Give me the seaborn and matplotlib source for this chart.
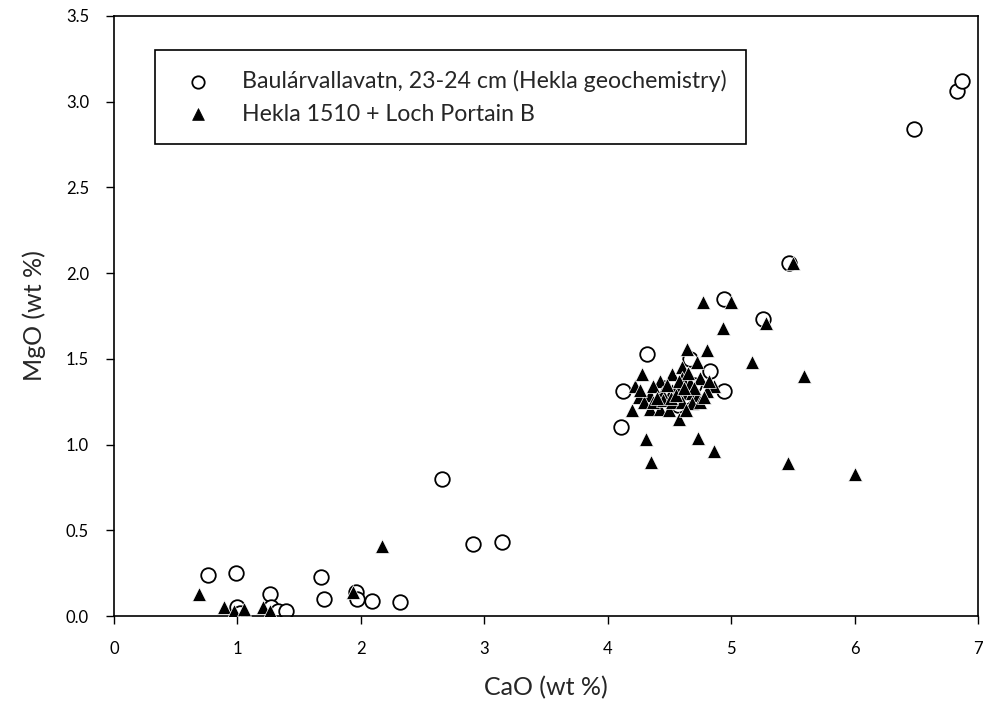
import matplotlib
matplotlib.use("Agg")
import matplotlib.pyplot as plt
import seaborn as sns
import pandas as pd

# Baulárvallavatn, 23-24 cm tephra shards (CaO, MgO in wt %)
baul_cao = [0.76, 0.99, 1.00, 1.02, 1.26, 1.27, 1.33, 1.39, 1.68, 1.70, 1.96, 1.97,
            2.09, 2.32, 2.66, 2.91, 3.14,
            4.11, 4.12, 4.32, 4.57, 4.67, 4.83, 4.94, 4.94, 5.26, 5.47, 4.45, 4.62, 4.70,
            6.48, 6.83, 6.87]
baul_mgo = [0.24, 0.25, 0.05, 0.02, 0.13, 0.05, 0.03, 0.03, 0.23, 0.10, 0.14, 0.10,
            0.09, 0.08, 0.80, 0.42, 0.43,
            1.10, 1.31, 1.53, 1.23, 1.50, 1.43, 1.31, 1.85, 1.73, 2.06, 1.33, 1.28, 1.35,
            2.84, 3.06, 3.12]

# Hekla 1510 + Loch Portain B reference glass
hekla_cao = [0.69, 0.89, 0.97, 1.05, 1.21, 1.26, 1.94, 2.17,
             4.77, 5.00, 4.93, 5.28, 5.50, 4.64, 4.80, 5.17, 4.72, 5.59, 4.31, 4.35,
             4.73, 4.86, 5.46, 6.00, 4.58, 4.20,
             4.22, 4.28, 4.25, 4.86, 4.75, 4.34, 4.42, 4.50, 4.42, 4.52, 4.60, 4.60,
             4.67, 4.52, 4.44, 4.34, 4.29, 4.37, 4.45, 4.52, 4.61, 4.68, 4.73, 4.80,
             4.60, 4.68, 4.75, 4.26, 4.37, 4.56, 4.63, 4.51, 4.65, 4.48, 4.55, 4.70,
             4.40, 4.58, 4.78, 4.82, 4.62]
hekla_mgo = [0.13, 0.05, 0.03, 0.04, 0.05, 0.03, 0.14, 0.41,
             1.83, 1.83, 1.68, 1.71, 2.06, 1.56, 1.55, 1.48, 1.48, 1.40, 1.03, 0.90,
             1.04, 0.96, 0.89, 0.83, 1.15, 1.20,
             1.34, 1.41, 1.28, 1.34, 1.39, 1.21, 1.21, 1.20, 1.37, 1.41, 1.45, 1.39,
             1.36, 1.32, 1.30, 1.29, 1.25, 1.25, 1.26, 1.25, 1.30, 1.30, 1.29, 1.31,
             1.25, 1.24, 1.25, 1.32, 1.34, 1.34, 1.20, 1.27, 1.42, 1.35, 1.29, 1.33,
             1.27, 1.37, 1.28, 1.37, 1.33]

label_baul = "Baulárvallavatn, 23-24 cm (Hekla geochemistry)"
label_hekla = "Hekla 1510 + Loch Portain B"

x_ticks = [0, 1, 2, 3, 4, 5, 6, 7]
y_ticks = [0.0, 0.5, 1.0, 1.5, 2.0, 2.5, 3.0, 3.5]

sns.set_theme(style="ticks")
plt.rcParams["font.family"] = ["Lato", "DejaVu Sans"]

baul = pd.DataFrame({"CaO": baul_cao, "MgO": baul_mgo})
hekla = pd.DataFrame({"CaO": hekla_cao, "MgO": hekla_mgo})

fig = plt.figure(figsize=(9.83, 7.13), dpi=100)
ax = fig.add_axes([0.116, 0.136, 0.879, 0.8416])

sns.scatterplot(data=baul, x="CaO", y="MgO", ax=ax, marker="o", s=110,
                facecolor="white", edgecolor="black", linewidth=1.3,
                label=label_baul, zorder=2)
sns.scatterplot(data=hekla, x="CaO", y="MgO", ax=ax, marker="^", s=100,
                color="black", edgecolor="white", linewidth=0.5,
                label=label_hekla, zorder=3)

ax.set_xlim(0, 7)
ax.set_ylim(0, 3.5)
ax.set_xticks(x_ticks)
ax.set_xticklabels([str(t) for t in x_ticks])
ax.set_yticks(y_ticks)
ax.set_yticklabels([f"{t:.1f}" for t in y_ticks])
ax.tick_params(direction="out", length=6, width=1, colors="black",
               labelsize=12, pad=12)
for side in ["top", "right", "bottom", "left"]:
    ax.spines[side].set_visible(True)
    ax.spines[side].set_color("black")
    ax.spines[side].set_linewidth(1.2)

ax.set_xlabel("CaO (wt %)", fontsize=18, labelpad=14)
ax.set_ylabel("MgO (wt %)", fontsize=18, labelpad=14)

leg = ax.legend(loc="upper left", bbox_to_anchor=(0.047, 0.943),
                borderaxespad=0, frameon=True, fancybox=False, framealpha=1,
                edgecolor="black", fontsize=16.7, borderpad=0.85,
                labelspacing=0.5, handletextpad=0.9, markerscale=0.85)
leg.get_frame().set_linewidth(1.2)
for h in leg.legend_handles:
    h.set_edgecolor("black")
leg.legend_handles[1].set_facecolor("black")

fig.savefig("out.png", dpi=100)
